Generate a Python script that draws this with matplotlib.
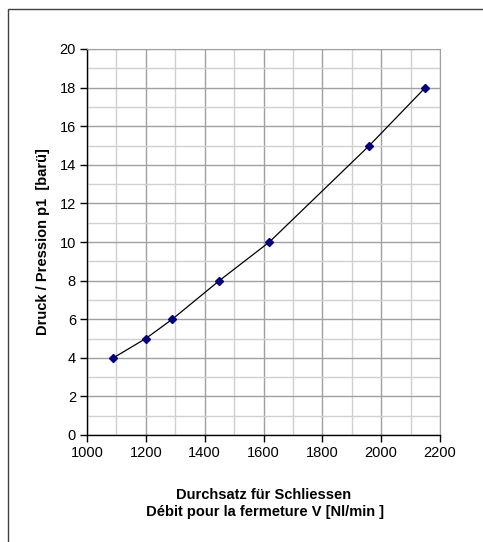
import matplotlib
matplotlib.use('Agg')
import matplotlib.pyplot as plt
from matplotlib.patches import Rectangle
from matplotlib.ticker import MultipleLocator

plt.rcParams['font.family'] = ['Liberation Sans', 'DejaVu Sans']

# Measured data points
flow = [1090, 1200, 1290, 1450, 1620, 1960, 2150]   # Nl/min
pressure = [4, 5, 6, 8, 10, 15, 18]                 # bar

W, H = 483, 542
fig = plt.figure(figsize=(W / 100, H / 100), dpi=100)

# outer chart frame (right/bottom edges lie outside the image)
fig.patches.append(Rectangle((8 / W, -0.1), 1.2, 1 - 9 / H + 0.1,
                             transform=fig.transFigure, fill=False,
                             edgecolor='#404040', linewidth=1.0))

ax = fig.add_axes([87 / W, 1 - 435 / H, (440 - 87) / W, (435 - 49) / H])

ax.plot(flow, pressure, color='black', linewidth=0.9,
        marker='D', markersize=4.5, markerfacecolor='#000080',
        markeredgecolor='#000080', zorder=3)

ax.set_xlim(1000, 2200)
ax.set_ylim(0, 20)
ax.xaxis.set_major_locator(MultipleLocator(200))
ax.xaxis.set_minor_locator(MultipleLocator(100))
ax.yaxis.set_major_locator(MultipleLocator(2))
ax.yaxis.set_minor_locator(MultipleLocator(1))

ax.grid(True, which='major', color='#a0a0a0', linewidth=1.0)
ax.grid(True, which='minor', color='#d0d0d0', linewidth=1.0)
ax.set_axisbelow(True)

for side in ('top', 'right'):
    ax.spines[side].set_color('#a0a0a0')
for side in ('left', 'bottom'):
    ax.spines[side].set_color('black')
    ax.spines[side].set_linewidth(1.0)

ax.tick_params(which='major', direction='out', length=5, width=1,
               labelsize=10.5, pad=3)
ax.tick_params(which='minor', length=0)

ax.set_ylabel('Druck / Pression p1  [barü]', fontsize=10.5,
              fontweight='bold', labelpad=7)
ax.set_xlabel('Durchsatz für Schliessen\n Débit pour la fermeture V [Nl/min ]',
              fontsize=10.5, fontweight='bold', labelpad=20,
              linespacing=1.3)

fig.savefig('out.png', dpi=100)
